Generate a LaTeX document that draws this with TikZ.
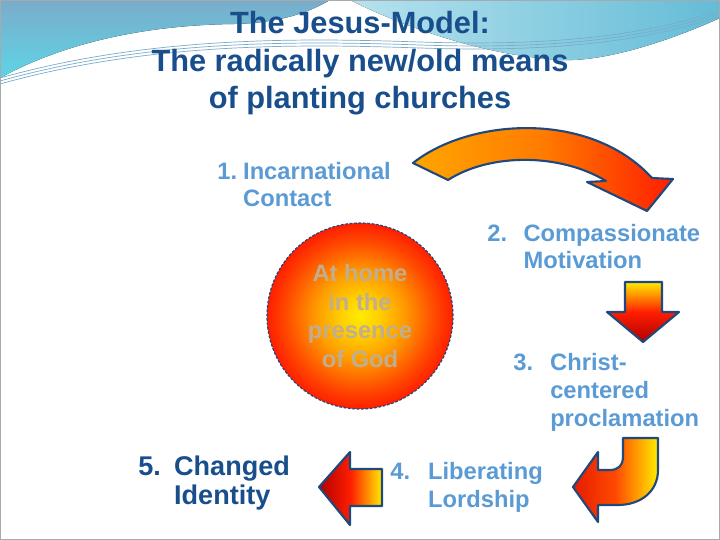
\documentclass[tikz,border=0pt]{standalone}
\usepackage{fontspec}
\setmainfont{Liberation Sans}
\definecolor{titleblue}{RGB}{25,78,140}
\definecolor{itemblue}{RGB}{91,155,213}
\definecolor{edgeblue}{RGB}{31,73,125}
\definecolor{sandgray}{RGB}{192,174,142}
\definecolor{sunyellow}{RGB}{255,236,0}
\definecolor{sungold}{RGB}{255,208,0}
\definecolor{sunorange}{RGB}{255,154,0}
\definecolor{sunflame}{RGB}{255,74,0}
\definecolor{sunred}{RGB}{255,30,0}
\definecolor{deepred}{RGB}{175,0,0}
\definecolor{skyteal}{RGB}{94,212,230}
\definecolor{skysteel}{RGB}{122,172,202}
\definecolor{skylight}{RGB}{182,226,238}
\definecolor{skydeep}{RGB}{100,188,214}
\definecolor{framegray}{RGB}{165,170,175}
\pgfdeclareradialshading{sunball}{\pgfpoint{0bp}{0bp}}{color(0bp)=(sunyellow); color(5bp)=(sungold); color(12bp)=(sunorange); color(20bp)=(sunflame); color(25bp)=(sunred); color(50bp)=(sunred)}
\tikzset{
  blockarrow/.style={draw=edgeblue, line width=1.2pt, line join=round},
  itemtext/.style={text=itemblue, align=left, anchor=base west, inner sep=0pt, font=\bfseries\fontsize{13.5}{15.8}\selectfont},
}

\begin{document}
\begin{tikzpicture}[x=0.02cm, y=-0.02cm]
    \useasboundingbox (0,0) rectangle (720,540);
    \fill[white] (0,0) rectangle (720,540);
    \fill[top color=skysteel, bottom color=skyteal] (0,0) -- (330,0) .. controls (310,12) and (280,23) .. (235,24) .. controls (140,25) and (60,45) .. (0,78) -- cycle;
    \fill[left color=skylight, right color=skydeep] (350,0) -- (720,0) -- (720,18) .. controls (660,45) and (600,62) .. (560,60) .. controls (480,55) and (400,25) .. (350,0) -- cycle;
    \foreach \d in {0,3,6} {
        \draw[skysteel, line width=0.4pt] (0,78+\d) .. controls (150,36+\d) and (300,38+\d) .. (420,42+\d) .. controls (540,46+\d) and (640,38+\d) .. (720,10+\d);
    }
    \draw[framegray, line width=0.6pt] (0.5,0.5) rectangle (719.5,539.5);

    \node[text=titleblue, align=center, anchor=base, inner sep=0pt, font=\bfseries\fontsize{17.5}{21.5}\selectfont] (title) at (360,109) {The Jesus-Model:\\The radically new/old means\\of planting churches};

    \node[circle, minimum size=3.72cm, inner sep=0pt, shade, shading=sunball, draw=edgeblue, dashed, dash pattern=on 1.5pt off 1pt, line width=0.7pt, text=sandgray, align=center, font=\bfseries\fontsize{13.5}{16.3}\selectfont] (home) at (360,316) {At home\\in the\\presence\\of God};

    \shade[blockarrow, left color=orange!70!yellow, right color=sunred, middle color=sunorange!80!red] (413,163) .. controls (470,118) and (590,110) .. (652,178) -- (673,179) -- (647,211) -- (587,182) -- (606,181) .. controls (560,153) and (490,153) .. (448,180) -- cycle;
    \shade[blockarrow, top color=sunyellow, bottom color=deepred, middle color=sunred] (625,282) -- (662,282) -- (662,312) -- (679,312) -- (643,342) -- (607,312) -- (625,312) -- cycle;
    \shade[blockarrow, left color=sunred!90!black, right color=sunyellow, middle color=sunflame] (623,438) -- (658,438) -- (658,470) .. controls (658,492) and (640,505) .. (618,505) -- (598,505) -- (598,522) -- (573,487) -- (598,452) -- (598,470) -- (610,470) .. controls (618,470) and (623,465) .. (623,458) -- cycle;
    \shade[blockarrow, left color=deepred, right color=sunyellow, middle color=sunred] (319,487) -- (350,452) -- (350,469) -- (382,469) -- (382,506) -- (350,506) -- (350,525) -- cycle;

    \node[itemtext] (contact) at (217,207) {\makebox[14.7pt][l]{1.}Incarnational\\\hspace*{14.7pt}Contact};
    \node[itemtext] (motivation) at (487,269) {\makebox[20.6pt][l]{2.}Compassionate\\\hspace*{20.6pt}Motivation};
    \node[itemtext] (proclamation) at (513,426) {\makebox[21pt][l]{3.}Christ-\\\hspace*{21pt}centered\\\hspace*{21pt}proclamation};
    \node[itemtext] (lordship) at (390,507) {\makebox[21.5pt][l]{4.}Liberating\\\hspace*{21.5pt}Lordship};
    \node[itemtext, text=titleblue, font=\bfseries\fontsize{15.4}{16.3}\selectfont] (identity) at (138,504) {\makebox[20.4pt][l]{5.}Changed\\\hspace*{20.4pt}Identity};
\end{tikzpicture}
\end{document}
